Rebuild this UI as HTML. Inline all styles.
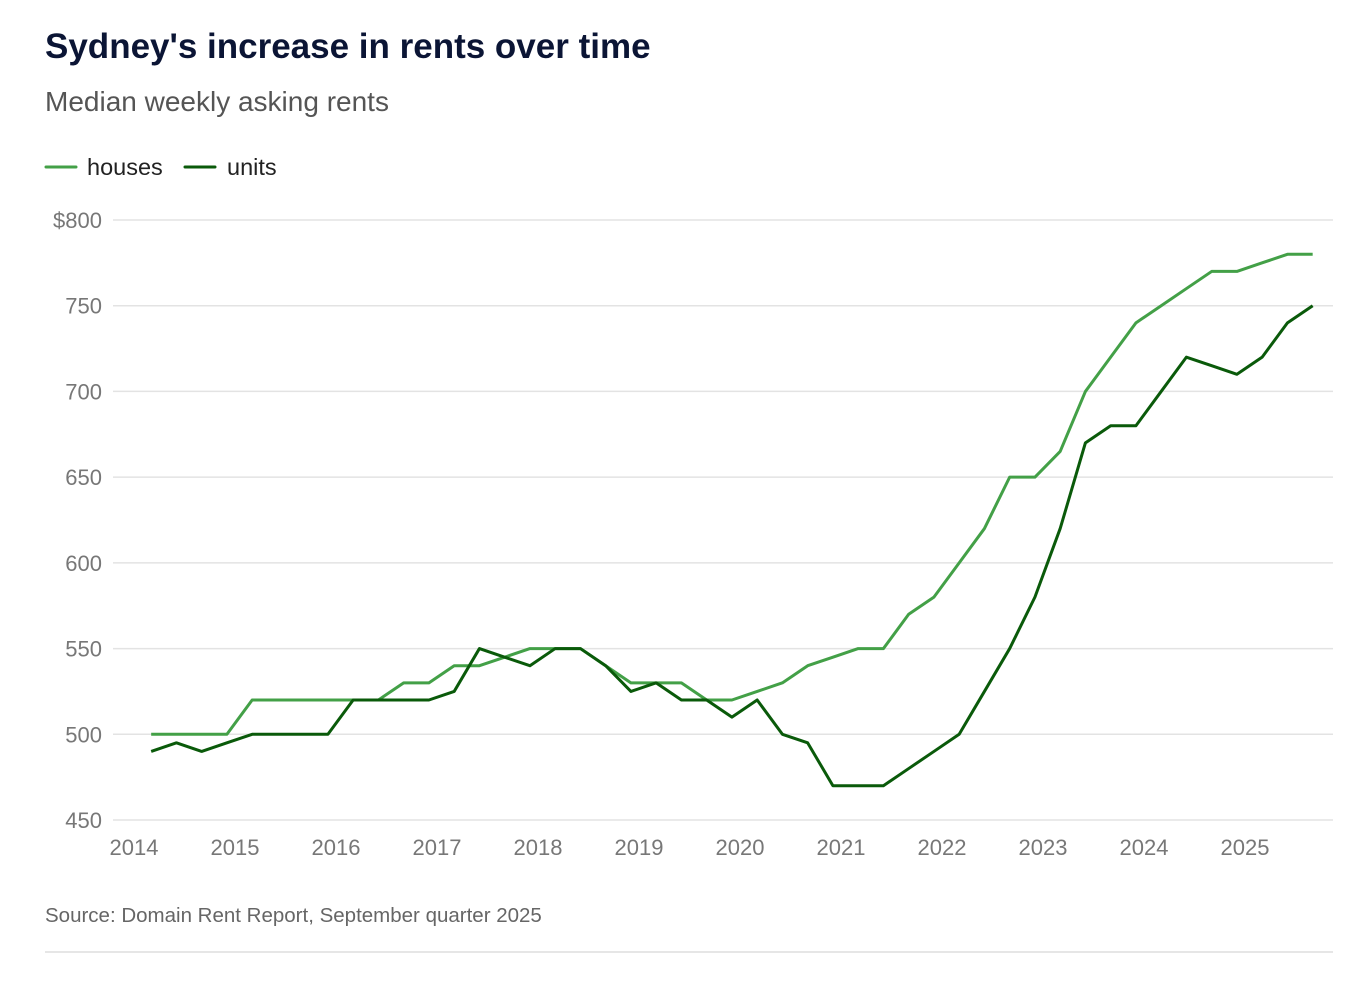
<!DOCTYPE html>
<html><head><meta charset="utf-8"><style>
body{margin:0;background:#fff;width:1356px;height:990px;overflow:hidden;font-family:"Liberation Sans",sans-serif}
</style></head><body>
<svg width="1356" height="990" style="position:absolute;left:0;top:0">
<text x="45" y="58" font-size="35" font-weight="bold" fill="#0b1535">Sydney's increase in rents over time</text>
<text x="45" y="111" font-size="28" fill="#555">Median weekly asking rents</text>
<g>
<line x1="46" y1="167" x2="76" y2="167" stroke="#43a047" stroke-width="3" stroke-linecap="round"/>
<text x="87" y="175" font-size="23.5" fill="#222">houses</text>
<line x1="185" y1="167" x2="215" y2="167" stroke="#0a5a0a" stroke-width="3" stroke-linecap="round"/>
<text x="227" y="175" font-size="23.5" fill="#222">units</text>
</g>
<g id="grid"></g><g id="lines"></g>
<text x="45" y="922" font-size="20.5" fill="#666">Source: Domain Rent Report, September quarter 2025</text>
<line x1="45" y1="952" x2="1333" y2="952" stroke="#ddd" stroke-width="1.5"/>
</svg>
<script>
const yTicks=[450,500,550,600,650,700,750,800];
const xYears=[2014,2015,2016,2017,2018,2019,2020,2021,2022,2023,2024,2025];
const houses=[500,500,500,500,520,520,520,520,520,520,530,530,540,540,545,550,550,550,540,530,530,530,520,520,525,530,540,545,550,550,570,580,600,620,650,650,665,700,720,740,750,760,770,770,775,780,780];
const units=[490,495,490,495,500,500,500,500,520,520,520,520,525,550,545,540,550,550,540,525,530,520,520,510,520,500,495,470,470,470,480,490,500,525,550,580,620,670,680,680,700,720,715,710,720,740,750];
const startYear=2014.17;
const NS="http://www.w3.org/2000/svg";
const y=v=>820-(v-450)*600/350;
const x=t=>134+(t-2014)*101;
const qx=i=>x(startYear+i*0.25);
const grid=document.getElementById('grid'),lines=document.getElementById('lines');
yTicks.forEach((v,i)=>{
 const l=document.createElementNS(NS,'line');
 l.setAttribute('x1',113);l.setAttribute('x2',1333);l.setAttribute('y1',y(v));l.setAttribute('y2',y(v));
 l.setAttribute('stroke','#e3e3e3');l.setAttribute('stroke-width',1.5);
 
 
 grid.appendChild(l);
 const t=document.createElementNS(NS,'text');
 t.setAttribute('x',102);t.setAttribute('y',y(v)+8);t.setAttribute('text-anchor','end');
 t.setAttribute('font-size',22);t.setAttribute('fill','#777');
 t.textContent=(i==yTicks.length-1?'$':'')+v;
 
 
 grid.appendChild(t);
});
xYears.forEach(yr=>{
 const t=document.createElementNS(NS,'text');
 t.setAttribute('x',x(yr));t.setAttribute('y',855);t.setAttribute('text-anchor','middle');
 t.setAttribute('font-size',22);t.setAttribute('fill','#777');t.textContent=yr;
 
 
 grid.appendChild(t);
});
function draw(arr,col,name){
 const p=document.createElementNS(NS,'polyline');
 p.setAttribute('points',arr.map((v,i)=>qx(i)+','+y(v)).join(' '));
 p.setAttribute('fill','none');p.setAttribute('stroke',col);p.setAttribute('stroke-width',3);
 p.setAttribute('stroke-linejoin','round');
 
 
 lines.appendChild(p);
}
draw(houses,'#43a047','houses-line');
draw(units,'#0a5a0a','units-line');
</script>
</body></html>
